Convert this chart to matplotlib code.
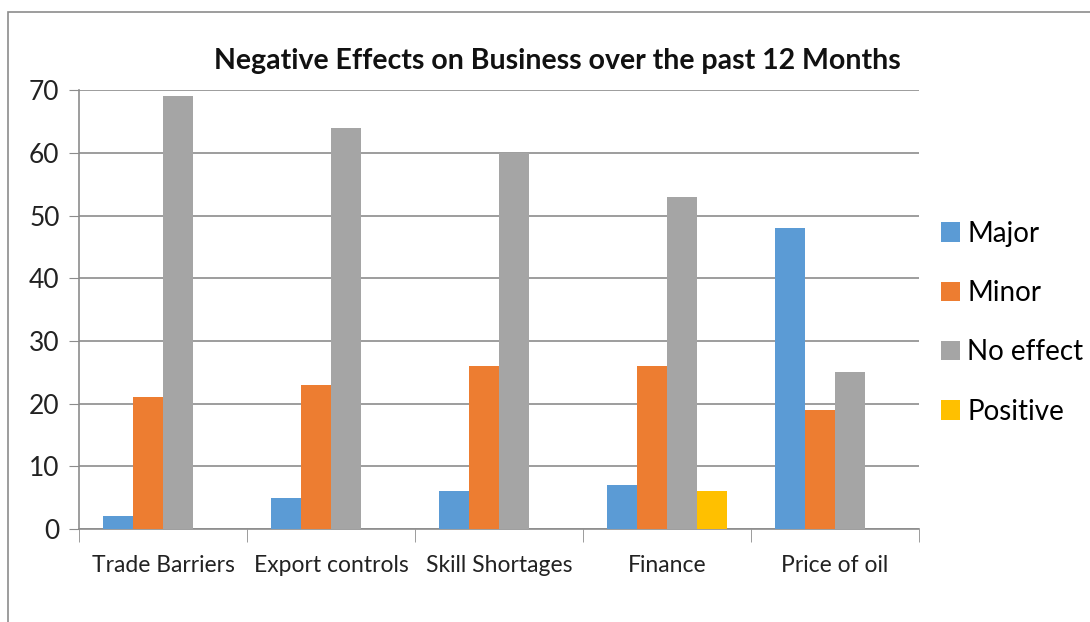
import matplotlib.pyplot as plt
import numpy as np
from matplotlib.patches import Rectangle

# survey results: share of businesses reporting each effect
categories = ["Trade Barriers", "Export controls", "Skill Shortages", "Finance", "Price of oil"]
major = [2, 5, 6, 7, 48]
minor = [21, 23, 26, 26, 19]
no_effect = [69, 64, 60, 53, 25]
positive = [0, 0, 0, 6, 0]

series = [
    ("Major", major, "#5B9BD5"),
    ("Minor", minor, "#ED7D31"),
    ("No effect", no_effect, "#A5A5A5"),
    ("Positive", positive, "#FFC000"),
]

plt.rcParams["font.family"] = ["Lato", "DejaVu Sans"]

fig = plt.figure(figsize=(10.9, 6.22), dpi=100)
ax = fig.add_axes([0.0725, 0.1495, 0.7705, 0.7055])

# outer chart frame (runs off the right and bottom edges)
fig.patches.append(Rectangle((8 / 1090, -0.1), 1.2, 1 - 12 / 622 + 0.1,
                             transform=fig.transFigure, fill=False,
                             edgecolor="#8c8c8c", linewidth=1.2))

x = np.arange(len(categories))
width = 30 / 168
for k, (name, vals, color) in enumerate(series):
    ax.bar(x + (k - 1.5) * width, vals, width, color=color, label=name, zorder=3)

ax.set_xlim(-0.5, len(categories) - 0.5)
ax.set_ylim(0, 70)
ax.set_yticks(range(0, 71, 10))
ax.tick_params(axis="y", length=7, color="#8c8c8c", labelsize=19, pad=7, labelcolor="#222222")

ax.set_xticks(x)
ax.set_xticklabels(categories)
ax.set_xticks(np.arange(-0.5, len(categories)), minor=True)
ax.tick_params(axis="x", which="major", length=0, labelsize=16.5, pad=19, labelcolor="#222222")
ax.tick_params(axis="x", which="minor", length=9, color="#8c8c8c")

ax.grid(axis="y", color="#8c8c8c", linewidth=1.2, zorder=0)
for side in ["top", "right"]:
    ax.spines[side].set_visible(False)
for side in ["left", "bottom"]:
    ax.spines[side].set_color("#8c8c8c")
    ax.spines[side].set_linewidth(1.2)

fig.text(0.511, 0.902, "Negative Effects on Business over the past 12 Months",
         ha="center", va="center", fontsize=20.5, fontweight="bold", color="#111111")

ax.legend(loc="center left", bbox_to_anchor=(1.013, 0.47), frameon=False,
          fontsize=20, handlelength=0.7, handleheight=0.7, handletextpad=0.25,
          labelspacing=1.2, borderaxespad=0)

fig.savefig("out.png", dpi=100)
